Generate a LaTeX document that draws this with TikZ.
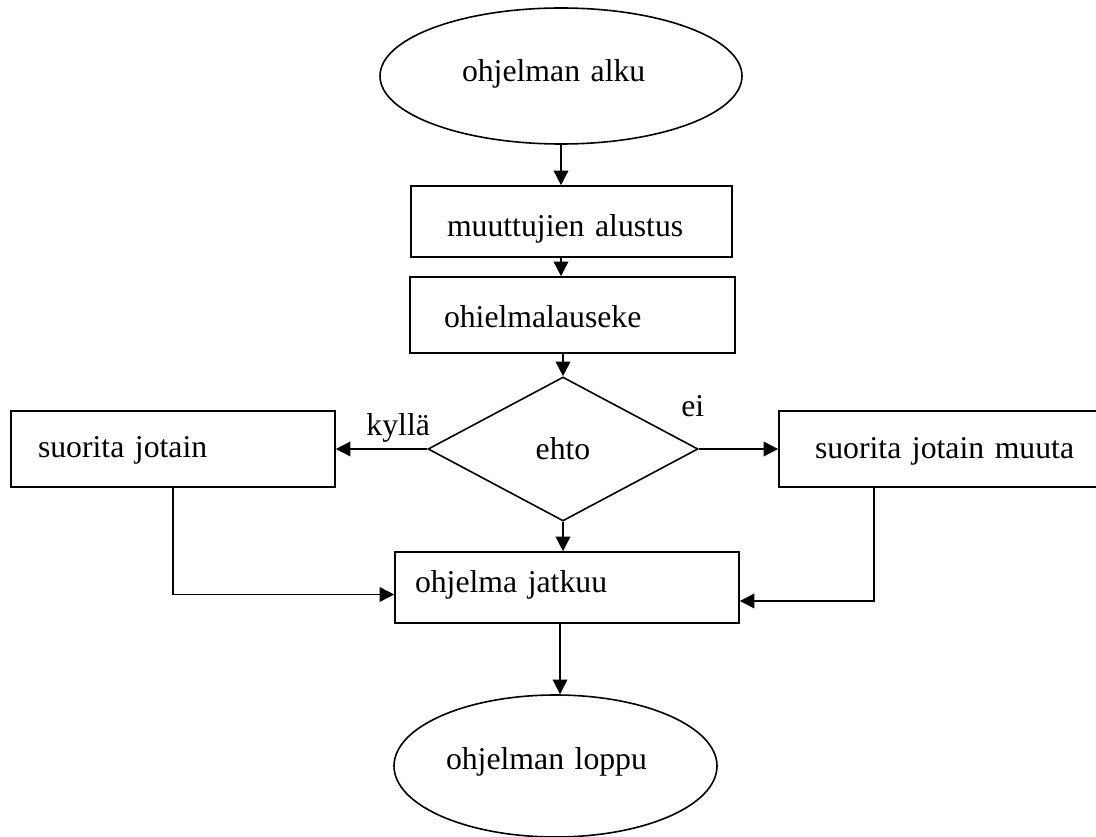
\documentclass[tikz,border=0pt]{standalone}
\usepackage{fontspec}
\setmainfont{Liberation Serif}
\usepackage{tikz}
\usetikzlibrary{shapes.geometric,arrows.meta,positioning}
\tikzset{>={Triangle[length=11pt,width=11pt]}}
\tikzset{
  box/.style={draw,rectangle,inner ysep=0pt,align=left,line width=1.2pt},
  terminal/.style={draw,ellipse,inner sep=0pt,align=left,line width=1.2pt},
  cond/.style={draw,diamond,inner sep=0pt,line width=1.2pt},
  flow/.style={->,line width=1.2pt},
  lbl/.style={anchor=base}
}

\begin{document}
\begin{tikzpicture}[x=0.75pt,y=-0.75pt,every node/.style={font=\fontsize{23.8pt}{28pt}\selectfont}]
\useasboundingbox (0,0) rectangle (1096,837);
\node[terminal,minimum width=271.5pt,minimum height=102pt,text width=148.5pt,text height=18pt,text depth=9pt] (alku) at (561,76) {ohjelman alku};
\node[box,text width=186.75pt,inner xsep=27pt,text height=38.25pt,text depth=15pt] (alustus) at (571.5,221.5) {muuttujien alustus};
\node[box,text width=192.75pt,inner xsep=25.5pt,text height=38.25pt,text depth=18.75pt] (lauseke) at (572.5,315) {ohielmalauseke};
\node[cond,minimum width=202.5pt,minimum height=108pt] (ehto) at (563,449) {ehto};
\node[box,text width=202.5pt,inner xsep=20.25pt,text height=35.25pt,text depth=21.75pt] (jotain) at (173,449) {suorita jotain};
\node[box,text width=201pt,inner xsep=27pt,text height=36pt,text depth=21pt] (muuta) at (949,449) {suorita jotain muuta};
\node[box,text width=228pt,inner xsep=15pt,text height=30pt,text depth=23.25pt] (jatkuu) at (567,587.5) {ohjelma jatkuu};
\node[terminal,minimum width=242.25pt,minimum height=106.5pt,text width=164.25pt,text height=15.75pt,text depth=11.25pt] (loppu) at (555.5,766) {ohjelman loppu};
\node[lbl] (kylla) at ([shift={(-29,-13)}]ehto.west) {kyllä};
\node[lbl] (ei) at ([shift={(-6,-32)}]ehto.east) {ei};
% nuolet
\draw[flow] (alku.south) -- (alku.south |- alustus.north);
\draw[flow] (alku.south |- alustus.south) -- (alku.south |- lauseke.north);
\draw[flow] (ehto.north |- lauseke.south) -- (ehto.north);
\draw[flow] (ehto.west) -- (jotain.east);
\draw[flow] (ehto.east) -- (muuta.west);
\draw[flow] (ehto.south) -- (ehto.south |- jatkuu.north);
\draw[flow] (jotain.south) |- ([yshift=-5.25pt]jatkuu.west);
\draw[flow] ([xshift=-56.25pt]muuta.south) |- ([yshift=-10.125pt]jatkuu.east);
\draw[flow] ([xshift=3.4pt]loppu.north |- jatkuu.south) -- ([xshift=3.4pt]loppu.north);
\end{tikzpicture}
\end{document}
